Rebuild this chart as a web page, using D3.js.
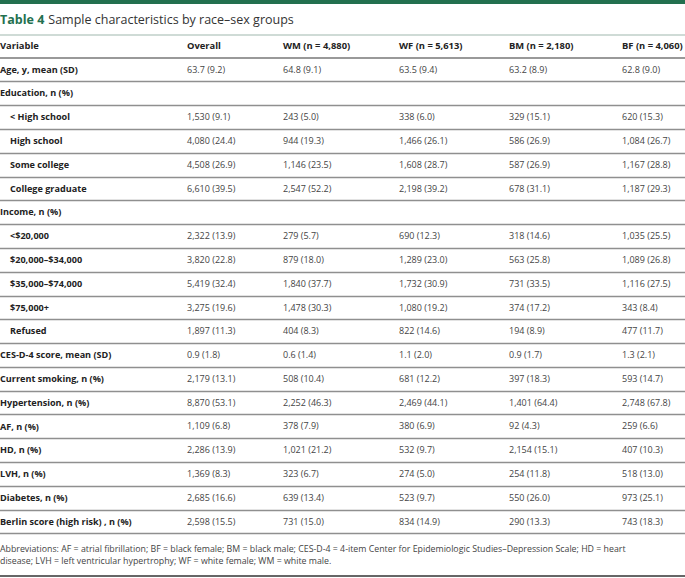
<!DOCTYPE html>
<html>
<head>
<meta charset="utf-8">
<script src="https://cdn.jsdelivr.net/npm/d3@7"></script>
<style>
  body { margin: 0; background: #fff; }
  svg text { font-family: "Open Sans", "Noto Sans", sans-serif; fill: #222; }
</style>
</head>
<body>
<div id="tbl"></div>
<script>
var titleNum = "Table 4",
    titleText = "Sample characteristics by race\u2013sex groups";

var headers = ["Variable", "Overall", "WM (n = 4,880)", "WF (n = 5,613)", "BM (n = 2,180)", "BF (n = 4,060)"];

var variables = ["Age, y, mean (SD)", "Education, n (%)", "< High school", "High school", "Some college",
  "College graduate", "Income, n (%)", "<$20,000", "$20,000\u2013$34,000", "$35,000\u2013$74,000", "$75,000+",
  "Refused", "CES-D-4 score, mean (SD)", "Current smoking, n (%)", "Hypertension, n (%)", "AF, n (%)",
  "HD, n (%)", "LVH, n (%)", "Diabetes, n (%)", "Berlin score (high risk) , n (%)"];

var indented = [0, 0, 1, 1, 1, 1, 0, 1, 1, 1, 1, 1, 0, 0, 0, 0, 0, 0, 0, 0];

var overall = ["63.7 (9.2)", "", "1,530 (9.1)", "4,080 (24.4)", "4,508 (26.9)", "6,610 (39.5)", "",
  "2,322 (13.9)", "3,820 (22.8)", "5,419 (32.4)", "3,275 (19.6)", "1,897 (11.3)", "0.9 (1.8)",
  "2,179 (13.1)", "8,870 (53.1)", "1,109 (6.8)", "2,286 (13.9)", "1,369 (8.3)", "2,685 (16.6)", "2,598 (15.5)"];

var wm = ["64.8 (9.1)", "", "243 (5.0)", "944 (19.3)", "1,146 (23.5)", "2,547 (52.2)", "",
  "279 (5.7)", "879 (18.0)", "1,840 (37.7)", "1,478 (30.3)", "404 (8.3)", "0.6 (1.4)",
  "508 (10.4)", "2,252 (46.3)", "378 (7.9)", "1,021 (21.2)", "323 (6.7)", "639 (13.4)", "731 (15.0)"];

var wf = ["63.5 (9.4)", "", "338 (6.0)", "1,466 (26.1)", "1,608 (28.7)", "2,198 (39.2)", "",
  "690 (12.3)", "1,289 (23.0)", "1,732 (30.9)", "1,080 (19.2)", "822 (14.6)", "1.1 (2.0)",
  "681 (12.2)", "2,469 (44.1)", "380 (6.9)", "532 (9.7)", "274 (5.0)", "523 (9.7)", "834 (14.9)"];

var bm = ["63.2 (8.9)", "", "329 (15.1)", "586 (26.9)", "587 (26.9)", "678 (31.1)", "",
  "318 (14.6)", "563 (25.8)", "731 (33.5)", "374 (17.2)", "194 (8.9)", "0.9 (1.7)",
  "397 (18.3)", "1,401 (64.4)", "92 (4.3)", "2,154 (15.1)", "254 (11.8)", "550 (26.0)", "290 (13.3)"];

var bf = ["62.8 (9.0)", "", "620 (15.3)", "1,084 (26.7)", "1,167 (28.8)", "1,187 (29.3)", "",
  "1,035 (25.5)", "1,089 (26.8)", "1,116 (27.5)", "343 (8.4)", "477 (11.7)", "1.3 (2.1)",
  "593 (14.7)", "2,748 (67.8)", "259 (6.6)", "407 (10.3)", "518 (13.0)", "973 (25.1)", "743 (18.3)"];

var footnote = [
  "Abbreviations: AF = atrial fibrillation; BF = black female; BM = black male; CES-D-4 = 4-item Center for Epidemiologic Studies\u2013Depression Scale; HD = heart",
  "disease; LVH = left ventricular hypertrophy; WF = white female; WM = white male."
];

var width = 685, height = 578,
    green = "#23704f";

var svg = d3.select("#tbl").append("svg")
    .attr("width", width)
    .attr("height", height);

var cols = [variables, overall, wm, wf, bm, bf];

// column positions
var xScale = d3.scaleOrdinal()
    .domain(d3.range(headers.length))
    .range([0, 187, 283, 399, 509, 622]);

// row centres
var yScale = d3.scaleLinear()
    .domain([0, variables.length - 1])
    .range([69.5, 521.5]);
var step = yScale(1) - yScale(0);

// top bar + title
svg.append("rect").attr("x", 0).attr("y", 0).attr("width", width).attr("height", 4).attr("fill", green);

var title = svg.append("text").attr("x", 0).attr("y", 24).style("font-size", "12.5px");
title.append("tspan").text(titleNum).style("font-weight", 700).style("fill", green);
title.append("tspan").attr("dx", 4).text(titleText).style("fill", "#333");

svg.append("line").attr("x1", 0).attr("x2", width).attr("y1", 35).attr("y2", 35)
    .attr("stroke", "#9fb8ae").attr("stroke-width", 1.2);

// header
svg.append("g").selectAll("text")
  .data(headers)
  .join("text")
    .attr("x", function(d, i) { return xScale(i); })
    .attr("y", 46)
    .attr("dy", "0.35em")
    .style("font-size", "9.4px")
    .style("font-weight", 700)
    .text(function(d) { return d; });

svg.append("line").attr("x1", 0).attr("x2", width).attr("y1", 58).attr("y2", 58)
    .attr("stroke", "#999").attr("stroke-width", 2);

// row separators
svg.append("g").selectAll("line")
  .data(variables)
  .join("line")
    .attr("x1", 0).attr("x2", width)
    .attr("y1", function(d, i) { return Math.round(yScale(i) + step / 2) + 0.5; })
    .attr("y2", function(d, i) { return Math.round(yScale(i) + step / 2) + 0.5; })
    .attr("stroke", "#8f8f8f")
    .attr("stroke-width", 1.3);

// cells
cols.forEach(function(col, c) {
  svg.append("g").selectAll("text")
    .data(col)
    .join("text")
      .attr("x", function(d, i) { return xScale(c) + (c === 0 && indented[i] ? 10 : 0); })
      .attr("y", function(d, i) { return yScale(i); })
      .attr("dy", "0.35em")
      .style("font-size", c === 0 ? "9.1px" : "9px")
      .style("font-weight", c === 0 ? 700 : 400)
      .style("fill", c === 0 ? "#222" : "#444")
      .text(function(d) { return d; });
});

// footnote
svg.append("g").selectAll("text")
  .data(footnote)
  .join("text")
    .attr("x", 0)
    .attr("y", function(d, i) { return 549 + i * 12; })
    .attr("dy", "0.35em")
    .style("font-size", "8.8px")
    .style("fill", "#444")
    .text(function(d) { return d; });

svg.append("line").attr("x1", 0).attr("x2", width).attr("y1", 576).attr("y2", 576)
    .attr("stroke", "#333").attr("stroke-width", 1.5);
</script>
</body>
</html>
